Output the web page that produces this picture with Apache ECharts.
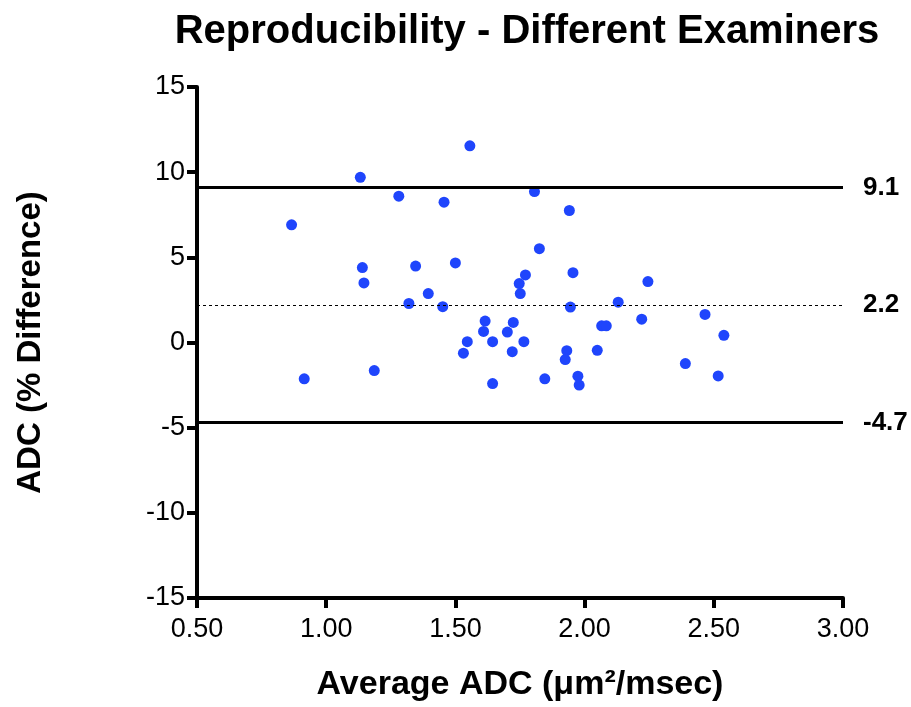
<!DOCTYPE html>
<html>
<head>
<meta charset="utf-8">
<script src="https://cdn.jsdelivr.net/npm/echarts@6/dist/echarts.min.js"></script>
<style>html,body{margin:0;padding:0;background:#fff;}#chart{width:911px;height:707px;}</style>
</head>
<body>
<div id="chart"></div>
<script>
const averageADC = [1.556,1.132,1.281,1.456,0.866,1.140,1.346,1.500,1.146,1.395,1.320,1.451,1.615,1.609,1.724,1.701,1.546,1.644,1.531,1.720,0.915,1.186,1.644,
  1.806,1.941,1.825,1.771,1.955,2.245,1.747,1.751,2.130,1.945,2.466,2.221,2.066,2.084,2.539,1.765,1.931,1.925,2.049,2.390,1.846,1.974,1.979,2.517];
const pctDifference = [11.55,9.70,8.59,8.24,6.91,4.40,4.49,4.67,3.50,2.87,2.29,2.10,1.26,0.65,1.18,0.61,0.05,0.05,-0.63,-0.54,-2.13,-1.65,-2.41,
  8.86,7.75,5.51,3.97,4.10,3.58,3.46,2.87,2.37,2.08,1.65,1.37,0.98,0.98,0.42,0.05,-0.48,-1.00,-0.46,-1.24,-2.13,-1.98,-2.50,-1.96];
const limitValues = [9.1, 2.2, -4.7];
const limitLabels = ['9.1', '2.2', '-4.7'];

const font = 'Liberation Sans, Arial, Helvetica, sans-serif';
const chart = echarts.init(document.getElementById('chart'));
chart.setOption({
  backgroundColor: '#fff',
  animation: false,
  title: {
    text: 'Reproducibility - Different Examiners',
    left: 522, top: 7, textAlign: 'center',
    textStyle: { fontFamily: font, fontSize: 40, fontWeight: 'bold', color: '#000' }
  },
  grid: { left: 197, right: 68, top: 87, bottom: 107, containLabel: false },
  xAxis: {
    type: 'value', min: 0.5, max: 3.0, interval: 0.5,
    name: 'Average ADC (μm²/msec)', nameLocation: 'middle', nameGap: 70,
    nameTextStyle: { fontFamily: font, fontSize: 34, fontWeight: 'bold', color: '#000' },
    axisLine: { onZero: false, lineStyle: { color: '#000', width: 4 } },
    axisTick: { length: 10, lineStyle: { color: '#000', width: 4 } },
    axisLabel: { fontFamily: font, fontSize: 27, color: '#000', margin: 18,
      formatter: v => v.toFixed(2) },
    splitLine: { show: false }
  },
  yAxis: {
    type: 'value', min: -15, max: 15, interval: 5,
    name: 'ADC (% Difference)', nameLocation: 'middle', nameGap: 150, nameRotate: 90,
    nameTextStyle: { fontFamily: font, fontSize: 33, fontWeight: 'bold', color: '#000' },
    axisLine: { onZero: false, lineStyle: { color: '#000', width: 4 } },
    axisTick: { length: 10, lineStyle: { color: '#000', width: 4 } },
    axisLabel: { fontFamily: font, fontSize: 27, color: '#000', margin: 12 },
    splitLine: { show: false }
  },
  series: [{
    type: 'scatter',
    data: averageADC.map((x, i) => [x, pctDifference[i]]),
    symbolSize: 11,
    itemStyle: { color: '#1f45fc', opacity: 1 },
    markLine: {
      silent: true, symbol: 'none',
      label: { show: true, position: 'end', distance: 20, fontFamily: font, fontSize: 26, fontWeight: 'bold', color: '#000',
        formatter: p => limitLabels[p.dataIndex] },
      data: limitValues.map((v, i) => ({
        yAxis: v,
        lineStyle: i === 1 ? { color: '#000', width: 1, type: [3, 3] } : { color: '#000', width: 3, type: 'solid' }
      }))
    }
  }]
});
</script>
</body>
</html>
